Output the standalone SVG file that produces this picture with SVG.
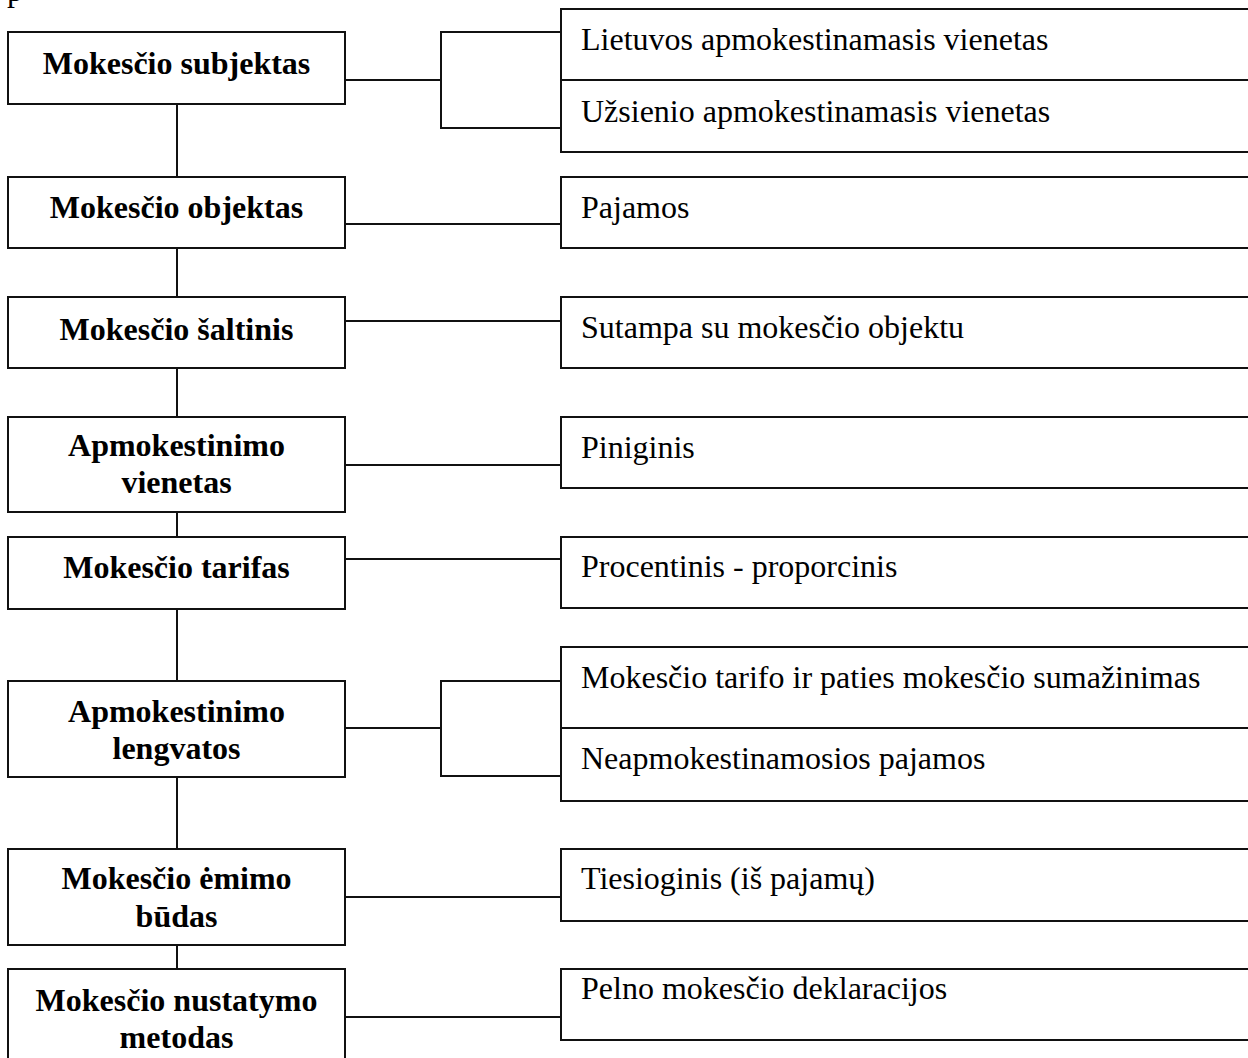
<svg xmlns="http://www.w3.org/2000/svg" width="1248" height="1058" viewBox="0 0 1248 1058">
  <style>
    rect.box { fill: #ffffff; stroke: #111111; stroke-width: 2; }
    line, polyline { stroke: #111111; stroke-width: 2; fill: none; }
    text { font-family: "Liberation Serif", "Times New Roman", serif; fill: #000000; }
    .head { font-size: 32px; font-weight: bold; text-anchor: middle; }
    .item { font-size: 32px; }
  </style>
  <rect x="0" y="0" width="1248" height="1058" fill="#ffffff"/>

  <!-- clipped caption fragment at the page edge -->
  <text class="item" x="7" y="1">p</text>

  <!-- connectors -->
  <g id="connectors">
    <!-- vertical spine between category boxes -->
    <line x1="177" y1="104" x2="177" y2="177"/>
    <line x1="177" y1="248" x2="177" y2="297"/>
    <line x1="177" y1="368" x2="177" y2="417"/>
    <line x1="177" y1="512" x2="177" y2="537"/>
    <line x1="177" y1="609" x2="177" y2="681"/>
    <line x1="177" y1="777" x2="177" y2="849"/>
    <line x1="177" y1="945" x2="177" y2="969"/>
    <!-- horizontal links to the value boxes -->
    <line x1="345" y1="80" x2="441" y2="80"/>
    <polyline points="561,32 441,32 441,128 561,128"/>
    <line x1="345" y1="224" x2="561" y2="224"/>
    <line x1="345" y1="321" x2="561" y2="321"/>
    <line x1="345" y1="465" x2="561" y2="465"/>
    <line x1="345" y1="559" x2="561" y2="559"/>
    <line x1="345" y1="728" x2="441" y2="728"/>
    <polyline points="561,681 441,681 441,776 561,776"/>
    <line x1="345" y1="897" x2="561" y2="897"/>
    <line x1="345" y1="1017" x2="561" y2="1017"/>
  </g>

  <!-- category boxes (left column) -->
  <g id="subjektas">
    <rect class="box" x="8" y="32" width="337" height="72"/>
    <text class="head" x="176.5" y="74">Mokesčio subjektas</text>
  </g>
  <g id="objektas">
    <rect class="box" x="8" y="177" width="337" height="71"/>
    <text class="head" x="176.5" y="218">Mokesčio objektas</text>
  </g>
  <g id="saltinis">
    <rect class="box" x="8" y="297" width="337" height="71"/>
    <text class="head" x="176.5" y="340">Mokesčio šaltinis</text>
  </g>
  <g id="apmokestinimo-vienetas">
    <rect class="box" x="8" y="417" width="337" height="95"/>
    <text class="head" x="176.5" y="456">Apmokestinimo</text>
    <text class="head" x="176.5" y="493">vienetas</text>
  </g>
  <g id="tarifas">
    <rect class="box" x="8" y="537" width="337" height="72"/>
    <text class="head" x="176.5" y="578">Mokesčio tarifas</text>
  </g>
  <g id="lengvatos">
    <rect class="box" x="8" y="681" width="337" height="96"/>
    <text class="head" x="176.5" y="722">Apmokestinimo</text>
    <text class="head" x="176.5" y="759">lengvatos</text>
  </g>
  <g id="emimo-budas">
    <rect class="box" x="8" y="849" width="337" height="96"/>
    <text class="head" x="176.5" y="889">Mokesčio ėmimo</text>
    <text class="head" x="176.5" y="927">būdas</text>
  </g>
  <g id="nustatymo-metodas">
    <rect class="box" x="8" y="969" width="337" height="100"/>
    <text class="head" x="176.5" y="1011">Mokesčio nustatymo</text>
    <text class="head" x="176.5" y="1048">metodas</text>
  </g>

  <!-- value boxes (right column, running past the right edge) -->
  <g id="subjektas-values">
    <rect class="box" x="561" y="9" width="700" height="71"/>
    <text class="item" x="581" y="50">Lietuvos apmokestinamasis vienetas</text>
    <rect class="box" x="561" y="80" width="700" height="72"/>
    <text class="item" x="581" y="122">Užsienio apmokestinamasis vienetas</text>
  </g>
  <g id="objektas-value">
    <rect class="box" x="561" y="177" width="700" height="71"/>
    <text class="item" x="581" y="218">Pajamos</text>
  </g>
  <g id="saltinis-value">
    <rect class="box" x="561" y="297" width="700" height="71"/>
    <text class="item" x="581" y="338">Sutampa su mokesčio objektu</text>
  </g>
  <g id="vienetas-value">
    <rect class="box" x="561" y="417" width="700" height="71"/>
    <text class="item" x="581" y="458">Piniginis</text>
  </g>
  <g id="tarifas-value">
    <rect class="box" x="561" y="537" width="700" height="71"/>
    <text class="item" x="581" y="577">Procentinis - proporcinis</text>
  </g>
  <g id="lengvatos-values">
    <rect class="box" x="561" y="647" width="700" height="81"/>
    <text class="item" x="581" y="688">Mokesčio tarifo ir paties mokesčio sumažinimas</text>
    <rect class="box" x="561" y="728" width="700" height="73"/>
    <text class="item" x="581" y="769">Neapmokestinamosios pajamos</text>
  </g>
  <g id="budas-value">
    <rect class="box" x="561" y="849" width="700" height="72"/>
    <text class="item" x="581" y="889">Tiesioginis (iš pajamų)</text>
  </g>
  <g id="metodas-value">
    <rect class="box" x="561" y="969" width="700" height="71"/>
    <text class="item" x="581" y="999">Pelno mokesčio deklaracijos</text>
  </g>
</svg>
